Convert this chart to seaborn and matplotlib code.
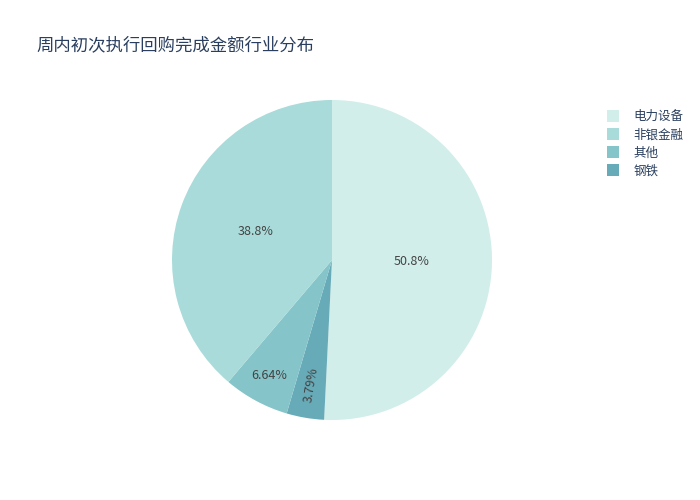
import numpy as np
import matplotlib
matplotlib.use("Agg")
import matplotlib.pyplot as plt
from matplotlib.lines import Line2D
import seaborn as sns

# data (legend order)
industries = ["电力设备", "非银金融", "其他", "钢铁"]
shares = [50.8, 38.8, 6.64, 3.79]
teal = ["#d1eeea", "#a8dbd9", "#85c4c9", "#68abb8"]

# order the slices are drawn clockwise from 12 o'clock
draw_order = ["电力设备", "钢铁", "其他", "非银金融"]
label_radius = {"电力设备": 0.5, "非银金融": 0.51, "其他": 0.82, "钢铁": 0.79}

sns.set_theme(style="white")
plt.rcParams["font.family"] = ["Noto Sans CJK SC", "DejaVu Sans"]

text_color = "#2a3f5f"
palette = dict(zip(industries, sns.color_palette(teal)))

fig = plt.figure(figsize=(7, 5), dpi=100)
ax = fig.add_axes([172 / 700, 1 - 420 / 500, 320 / 700, 320 / 500])

vals = [shares[industries.index(n)] for n in draw_order]
wedges, _ = ax.pie(
    vals,
    colors=[palette[n] for n in draw_order],
    startangle=90,
    counterclock=False,
    wedgeprops=dict(linewidth=0),
)
ax.set_xlim(-1, 1)
ax.set_ylim(-1, 1)
ax.set_aspect("equal")

for name, w, v in zip(draw_order, wedges, vals):
    mid = np.deg2rad((w.theta1 + w.theta2) / 2)
    r = label_radius[name]
    x, y = r * np.cos(mid), r * np.sin(mid)
    txt = f"{v:.3g}%"
    rot = 0
    if name == "钢铁":
        rot = np.rad2deg(mid) + 180
    ax.text(x, y, txt, ha="center", va="center", fontsize=9,
            color="#444444", rotation=rot, rotation_mode="anchor")

fig.text(36 / 700, 1 - 45 / 500, "周内初次执行回购完成金额行业分布",
         fontsize=12.5, color=text_color, ha="left", va="center")

handles = [Line2D([0], [0], marker="s", linestyle="none", markersize=8.5,
                  markerfacecolor=palette[n], markeredgewidth=0)
           for n in industries]
leg = fig.legend(handles, industries, loc="upper left",
                 bbox_to_anchor=(600 / 700, 1 - 110 / 500), frameon=False,
                 fontsize=9, handletextpad=0.7, labelspacing=0.42,
                 borderaxespad=0, borderpad=0)
for t in leg.get_texts():
    t.set_color(text_color)

fig.savefig("out.png", dpi=100)
